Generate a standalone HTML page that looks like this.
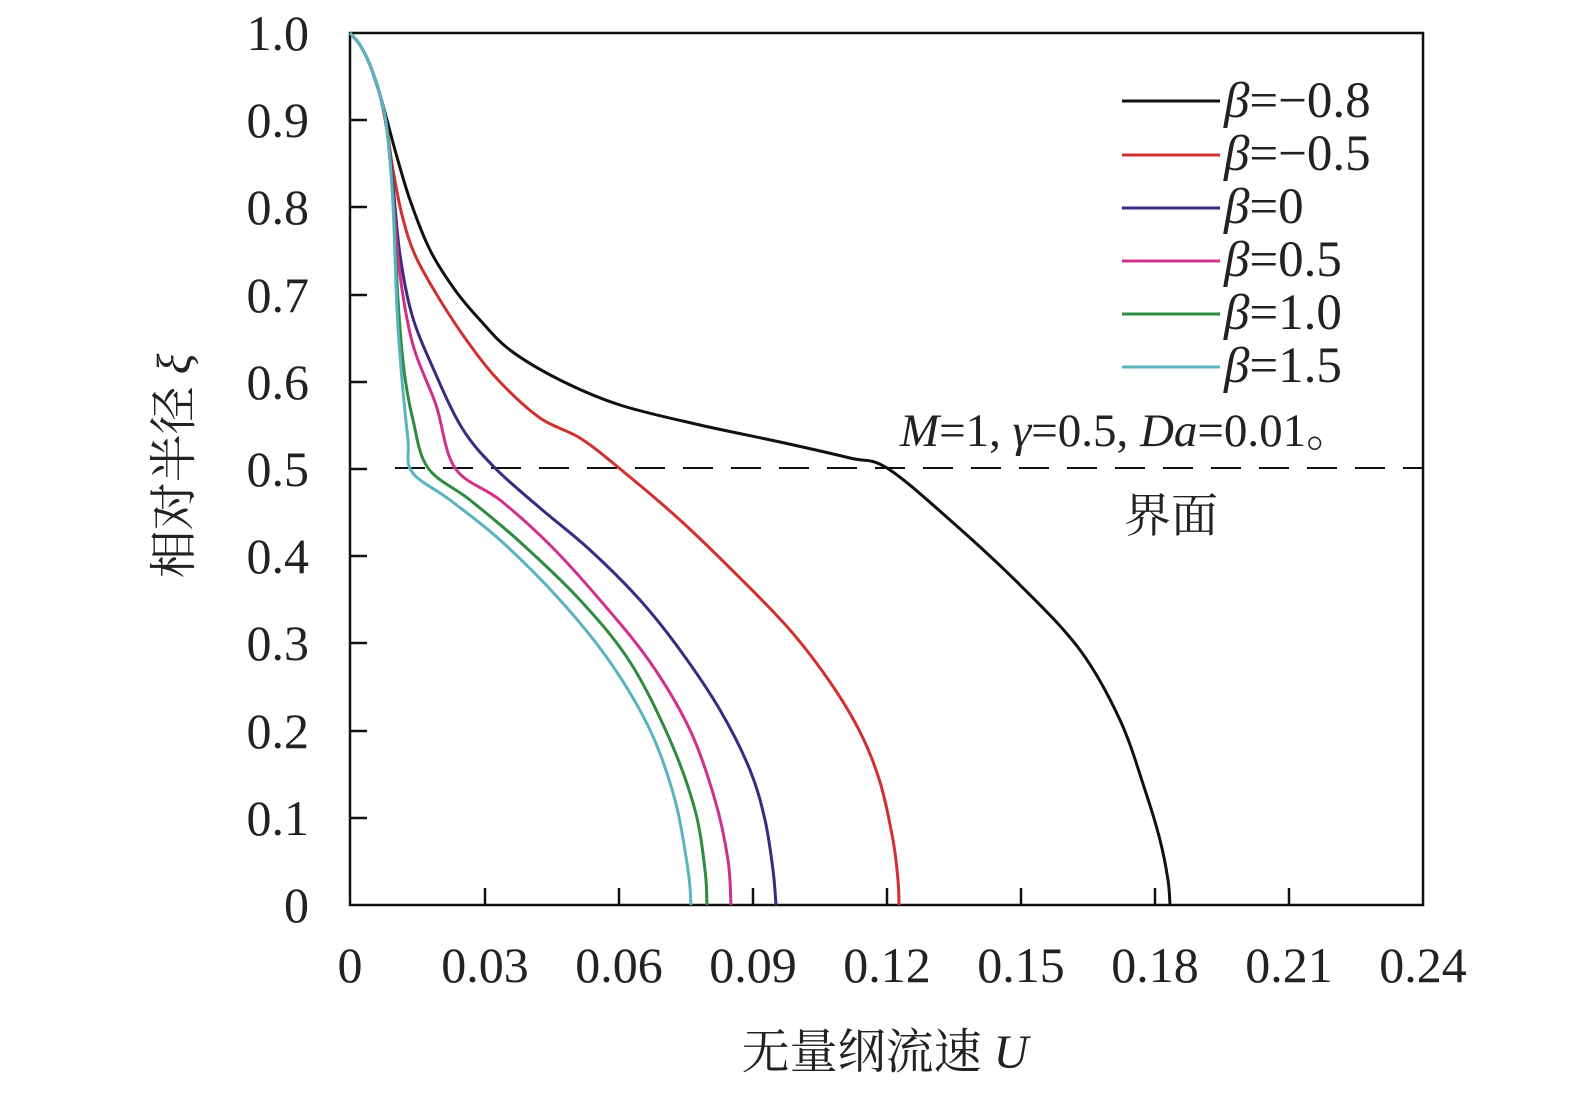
<!DOCTYPE html>
<html><head><meta charset="utf-8"><style>
html,body{margin:0;padding:0;background:#fff;}
svg{display:block}
text{font-family:"Liberation Serif","Noto Serif CJK SC",serif;fill:#222}
</style></head><body>
<svg id="s" width="1575" height="1094" viewBox="0 0 1575 1094" xmlns="http://www.w3.org/2000/svg">
<rect x="350" y="33" width="1073" height="872" fill="none" stroke="#111" stroke-width="2.5"/>
<g stroke="#111" stroke-width="2.5">
<line x1="485" y1="905" x2="485" y2="888"/><line x1="619" y1="905" x2="619" y2="888"/>
<line x1="753" y1="905" x2="753" y2="888"/><line x1="887" y1="905" x2="887" y2="888"/>
<line x1="1021" y1="905" x2="1021" y2="888"/><line x1="1155" y1="905" x2="1155" y2="888"/>
<line x1="1289" y1="905" x2="1289" y2="888"/>
<line x1="350" y1="120" x2="367" y2="120"/><line x1="350" y1="207" x2="367" y2="207"/>
<line x1="350" y1="295" x2="367" y2="295"/><line x1="350" y1="382" x2="367" y2="382"/>
<line x1="350" y1="469" x2="367" y2="469"/><line x1="350" y1="556" x2="367" y2="556"/>
<line x1="350" y1="643" x2="367" y2="643"/><line x1="350" y1="731" x2="367" y2="731"/>
<line x1="350" y1="818" x2="367" y2="818"/>
</g>
<g font-size="50" text-anchor="end">
<text x="309" y="50">1.0</text><text x="309" y="137">0.9</text><text x="309" y="224">0.8</text>
<text x="309" y="312">0.7</text><text x="309" y="399">0.6</text><text x="309" y="486">0.5</text>
<text x="309" y="573">0.4</text><text x="309" y="660">0.3</text><text x="309" y="748">0.2</text>
<text x="309" y="835">0.1</text><text x="309" y="922">0</text>
</g>
<g font-size="50" text-anchor="middle">
<text x="350" y="982">0</text><text x="485" y="982">0.03</text><text x="619" y="982">0.06</text>
<text x="753" y="982">0.09</text><text x="887" y="982">0.12</text><text x="1021" y="982">0.15</text>
<text x="1155" y="982">0.18</text><text x="1289" y="982">0.21</text><text x="1423" y="982">0.24</text>
</g>
<text x="885" y="1068" font-size="48" text-anchor="middle">无量纲流速 <tspan font-style="italic">U</tspan></text>
<text transform="translate(190,466) rotate(-90)" font-size="48" text-anchor="middle">相对半径 <tspan font-style="italic">ξ</tspan></text>
<line x1="395" y1="468" x2="1423" y2="468" stroke="#111" stroke-width="2" stroke-dasharray="30,18"/>
<text x="900" y="446" font-size="47"><tspan font-style="italic">M</tspan>=1, <tspan font-style="italic">γ</tspan>=0.5, <tspan font-style="italic">Da</tspan>=0.01。</text>
<text x="1124" y="532" font-size="47">界面</text>
<g fill="none" stroke-width="3" stroke-linejoin="round">
<polyline stroke="#111" points="350,33 360,45 370,65 380,95 387,120 395,150 410,200 430,250 455,290 480,320 510,350 560,380 620,405 700,425 780,442 850,458 887,468 950,520 1020,585 1080,650 1120,720 1145,790 1160,840 1168,880 1170,905"/>
<polyline stroke="#d03030" points="350,33 360,45 370,65 380,95 387,130 393,170 402,215 415,255 440,300 470,345 500,382 540,418 580,438 619,468 680,520 740,578 790,630 830,682 860,732 880,782 893,840 898,880 899,905"/>
<polyline stroke="#3a2a80" points="350,33 360,45 370,65 380,95 387,130 393,185 400,255 412,315 433,368 462,428 495,468 540,508 590,550 640,600 680,650 720,710 750,770 765,820 773,870 776,905"/>
<polyline stroke="#d0308c" points="350,33 360,45 370,65 380,95 387,130 393,195 400,275 413,345 436,405 455,468 500,500 550,545 600,600 650,662 690,730 715,800 728,860 731,905"/>
<polyline stroke="#2e8b40" points="350,33 360,45 370,65 380,95 387,130 393,200 398,300 404,370 413,420 428,468 470,500 520,542 580,600 630,662 670,740 695,810 705,870 707,905"/>
<polyline stroke="#5ab4c0" points="350,33 360,45 370,65 380,95 387,130 393,205 397,310 402,380 408,440 412,472 450,500 500,540 560,600 610,662 650,730 675,800 688,870 691,905"/>
</g>
<g stroke-width="3">
<line x1="1122" y1="101" x2="1220" y2="101" stroke="#111"/>
<line x1="1122" y1="155" x2="1220" y2="155" stroke="#d03030"/>
<line x1="1122" y1="208" x2="1220" y2="208" stroke="#3a2a80"/>
<line x1="1122" y1="261" x2="1220" y2="261" stroke="#d0308c"/>
<line x1="1122" y1="314" x2="1220" y2="314" stroke="#2e8b40"/>
<line x1="1122" y1="367" x2="1220" y2="367" stroke="#5ab4c0"/>
</g>
<g font-size="51">
<text x="1224" y="117"><tspan font-style="italic">β</tspan>=−0.8</text>
<text x="1224" y="170"><tspan font-style="italic">β</tspan>=−0.5</text>
<text x="1224" y="223"><tspan font-style="italic">β</tspan>=0</text>
<text x="1224" y="276"><tspan font-style="italic">β</tspan>=0.5</text>
<text x="1224" y="329"><tspan font-style="italic">β</tspan>=1.0</text>
<text x="1224" y="382"><tspan font-style="italic">β</tspan>=1.5</text>
</g>
</svg>
<script>
document.querySelectorAll('polyline').forEach(function(pl){
  var p=pl.getAttribute('points').trim().split(/\s+/).map(function(s){return s.split(',').map(Number);});
  var d='M'+p[0][0]+','+p[0][1];
  for(var i=0;i<p.length-1;i++){
    var p0=p[i>0?i-1:i],p1=p[i],p2=p[i+1],p3=p[i+2<p.length?i+2:i+1];
    var c1x=p1[0]+(p2[0]-p0[0])/6,c1y=p1[1]+(p2[1]-p0[1])/6;
    var c2x=p2[0]-(p3[0]-p1[0])/6,c2y=p2[1]-(p3[1]-p1[1])/6;
    d+=' C'+c1x+','+c1y+' '+c2x+','+c2y+' '+p2[0]+','+p2[1];
  }
  var path=document.createElementNS('http://www.w3.org/2000/svg','path');
  path.setAttribute('d',d);path.setAttribute('stroke',pl.getAttribute('stroke'));
  pl.parentNode.replaceChild(path,pl);
});
</script>
</body></html>
